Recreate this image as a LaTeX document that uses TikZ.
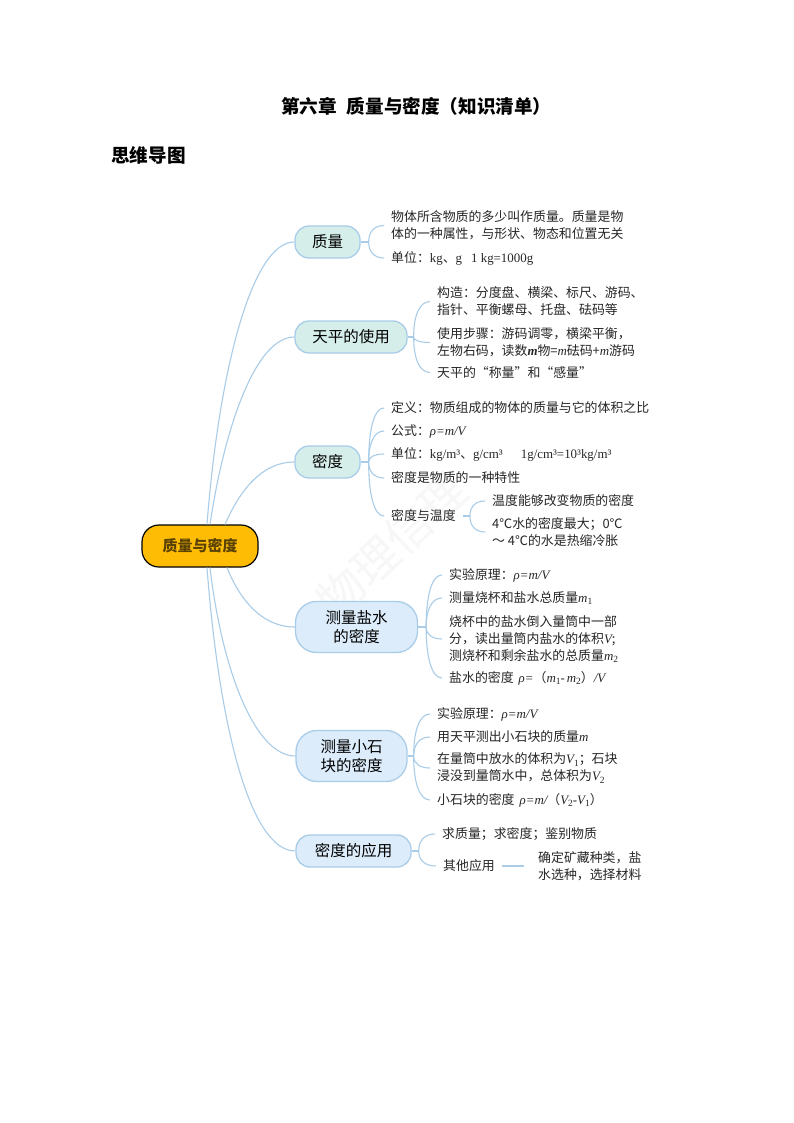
\documentclass[tikz,border=0pt]{standalone}
\usepackage{fontspec}
\usetikzlibrary{calc}
\setmainfont{Noto Sans CJK SC}
\newfontfamily\latinf{Liberation Serif}
\newcommand{\en}[1]{{\latinf #1}}
\newcommand{\mi}[1]{{\latinf\itshape #1}}
\newcommand{\sbs}[1]{\raisebox{-2.5pt}{\latinf\fontsize{9.5}{9.5}\selectfont #1}}
\definecolor{linec}{HTML}{A9CDE8}
\definecolor{tealf}{HTML}{D6EEEA}
\definecolor{bluef}{HTML}{DCECFB}
\definecolor{goldf}{HTML}{FFBC05}
\definecolor{txt}{HTML}{262626}
\tikzset{
  x=1pt,y=-1pt,
  pill/.style={draw=linec,line width=1.3pt,rounded corners=#1,inner sep=0pt,align=center,text=black,font=\fontsize{15.5}{18.5}\selectfont},
  tealpill/.style={pill=14pt,fill=tealf,minimum height=32pt},
  bluepill/.style={pill=21pt,fill=bluef,minimum height=51pt},
  bluelow/.style={pill=14pt,fill=bluef,minimum height=32pt},
  leaf/.style={anchor=west,inner ysep=0pt,inner xsep=7pt,align=left,text=txt,font=\fontsize{12.9}{17}\selectfont},
  branch/.style={draw=linec,line width=1.1pt},
  twig/.style={draw=linec,line width=1.1pt}
}
% twig from a parent node: short stem, then a curve to each leaf
\newcommand{\twigs}[3]{%
  \draw[twig] (#1.east) -- ++(#2,0) coordinate (sp);
  \foreach \t in {#3}{\draw[twig] (sp) .. controls ($(sp)!.6!(sp|-\t.west)$) and ($(sp|-\t.west)!.35!(\t.west)$) .. (\t.west);}
}
\begin{document}
\begin{tikzpicture}
\useasboundingbox (0,0) rectangle (794,1123);
\fill[white] (0,0) rectangle (794,1123);
\node[rotate=43,text=black!3,font=\fontsize{46}{46}\selectfont] (wm) at (392,545) {物理信理};

\node[font=\bfseries\fontsize{18.6}{22}\selectfont,anchor=west,inner sep=0pt] (title) at (281,106) {第六章\hspace{10pt}质量与密度（知识清单）};
\node[font=\bfseries\fontsize{18.6}{22}\selectfont,anchor=west,inner sep=0pt] (sub) at (111,155) {思维导图};

\node[draw=black,line width=1.2pt,fill=goldf,rounded corners=17pt,minimum width=116pt,minimum height=42pt,inner sep=0pt,text=black!65!goldf,font=\bfseries\fontsize{15}{18}\selectfont] (c) at (200,546) {质量与密度};

\node[tealpill,minimum width=65pt] (n1) at (327.5,242) {质量};
\node[tealpill,minimum width=112pt] (n2) at (351,337) {天平的使用};
\node[tealpill,minimum width=65pt] (n3) at (327.5,462) {密度};
\node[bluepill,minimum width=122pt] (n4) at (356.5,627) {测量盐水\\的密度};
\node[bluepill,minimum width=111pt] (n5) at (351.5,756) {测量小石\\块的密度};
\node[bluelow,minimum width=115pt] (n6) at (353.5,851) {密度的应用};

\draw[branch] ([xshift=7pt]c.north) .. controls (219,370) and (252,242) .. (n1.west);
\draw[branch] ([xshift=10pt]c.north) .. controls (224,430) and (255,337) .. (n2.west);
\draw[branch] ([xshift=25pt]c.north) .. controls (240,490) and (262,462) .. (n3.west);
\draw[branch] ([xshift=27pt]c.south) .. controls (240,600) and (262,627) .. (n4.west);
\draw[branch] ([xshift=10pt]c.south) .. controls (222,670) and (255,756) .. (n5.west);
\draw[branch] ([xshift=7pt]c.south) .. controls (219,725) and (250,851) .. (n6.west);

% 质量
\node[leaf] (a1) at (384,225.5) {物体所含物质的多少叫作质量。质量是物\\体的一种属性，与形状、物态和位置无关};
\node[leaf] (a2) at (384,258) {单位：\en{kg}、\en{g}\hspace{9pt}\en{1 kg=1000g}};
\twigs{n1}{8}{a1,a2}

% 天平
\node[leaf] (b1) at (430,301.5) {构造：分度盘、横梁、标尺、游码、\\指针、平衡螺母、托盘、砝码等};
\node[leaf] (b2) at (430,342.5) {使用步骤：游码调零，横梁平衡，\\左物右码，读数\mi{\bfseries m}物=\mi{m}砝码+\mi{m}游码};
\node[leaf] (b3) at (430,372.5) {天平的“称量”和“感量”};
\twigs{n2}{6}{b1,b2,b3}

% 密度
\node[leaf] (d1) at (384,408) {定义：物质组成的物体的质量与它的体积之比};
\node[leaf] (d2) at (384,431) {公式：\mi{ρ=m/V}};
\node[leaf] (d3) at (384,454) {单位：\en{kg/m³}、\en{g/cm³}\hspace{18pt}\en{1g/cm³=10³kg/m³}};
\node[leaf] (d4) at (384,478) {密度是物质的一种特性};
\node[leaf] (d5) at (384,516) {密度与温度};
\twigs{n3}{8}{d1,d2,d3,d4,d5}

\node[leaf] (e1) at (485,501) {温度能够改变物质的密度};
\node[leaf] (e2) at (485,532) {4℃水的密度最大；0℃\\～ 4℃的水是热缩冷胀};
\twigs{d5}{7}{e1,e2}

% 盐水
\node[leaf] (f1) at (442,575) {实验原理：\mi{ρ=m/V}};
\node[leaf] (f2) at (442,598) {测量烧杯和盐水总质量\mi{m}\sbs{1}};
\node[leaf] (f3) at (442,639) {烧杯中的盐水倒入量筒中一部\\分，读出量筒内盐水的体积\mi{V};\\测烧杯和剩余盐水的总质量\mi{m}\sbs{2}};
\node[leaf] (f4) at (442,678) {盐水的密度\hspace{5pt}\mi{ρ=}（\mi{m}\sbs{1}\en{-}\hspace{2pt}\mi{m}\sbs{2}）\mi{/V}};
\twigs{n4}{8}{f1,f2,f3,f4}

% 小石块
\node[leaf] (g1) at (430,714) {实验原理：\mi{ρ=m/V}};
\node[leaf] (g2) at (430,737) {用天平测出小石块的质量\mi{m}};
\node[leaf] (g3) at (430,768) {在量筒中放水的体积为\mi{V}\sbs{1}；石块\\浸没到量筒水中，总体积为\mi{V}\sbs{2}};
\node[leaf] (g4) at (430,800) {小石块的密度\hspace{5pt}\mi{ρ=m/}（\mi{V}\sbs{2}\en{-}\mi{V}\sbs{1}）};
\twigs{n5}{6}{g1,g2,g3,g4}

% 应用
\node[leaf] (h1) at (435,834) {求质量；求密度；鉴别物质};
\node[leaf] (h2) at (436,866) {其他应用};
\twigs{n6}{7}{h1,h2}
\node[leaf,inner xsep=14pt] (h3) at (524,866) {确定矿藏种类，盐\\水选种，选择材料};
\draw[twig] (h2.east) -- (h3.west);
\end{tikzpicture}
\end{document}
